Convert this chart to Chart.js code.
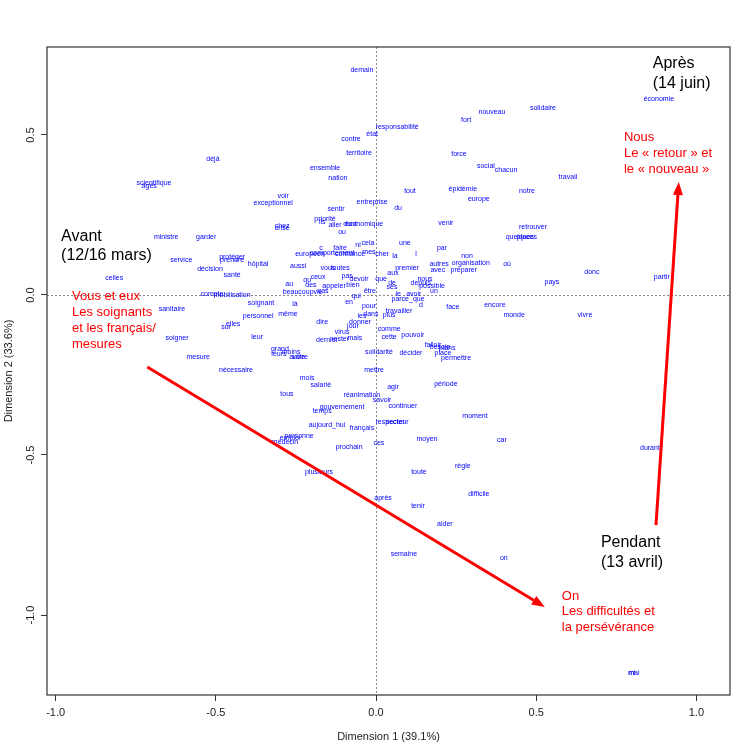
<!DOCTYPE html>
<html><head><meta charset="utf-8">
<script src="https://cdn.jsdelivr.net/npm/chart.js@4/dist/chart.umd.min.js"></script>
<style>html,body{margin:0;padding:0;background:#fff}</style>
</head><body>
<canvas id="c" width="754" height="754" style="display:block;width:754px;height:754px"></canvas>
<script>
// ---- data (correspondence analysis coordinates) ----
const words = ["demain","responsabilité","état","contre","territoire","nouveau","solidaire","économie","fort","force",
"social","chacun","travail","notre","épidémie","europe","tout","déjà","scientifique","âgés",
"ensemble","nation","voir","exceptionnel","entreprise","du","sentir","priorité","ils","aller",
"dont","économique","ou","venir","retrouver","quelques","places","crise","chez","ministre",
"garder","cela","ni","une","c","faire","européen","comportement","confiance","mes",
"cher","la","l","par","non","organisation","autres","avec","préparer","premier",
"aux","où","donc","pays","partir","service","protéger","prendre","hôpital","décision",
"santé","celles","aussi","vous","toutes","pas","devoir","que","ceux","qu",
"au","des","appeler","bien","beaucoup","vie","cas","être","nous","depuis",
"possible","de","ses","un","le","avoir","parce_que","qui","compte","mobilisation",
"soignant","là","en","pour","d","face","encore","travailler","plus","monde",
"vivre","sanitaire","personnel","même","les","dans","dire","donner","elles","sur",
"jour","virus","comme","cette","pouvoir","soigner","leur","dernier","rester","mais",
"falloir","besoin","plans","place","décider","permettre","grand","leurs","moins","autre",
"votre","solidarité","mesure","nécessaire","mettre","mois","salarié","agir","période","tous",
"réanimation","savoir","continuer","gouvernement","temps","moment","respecter","secteur","aujourd_hui","français",
"personne","emploi","médecin","moyen","car","ces","prochain","durant","règle","plusieurs",
"toute","difficile","après","tenir","aider","semaine","on","mai","mi"];
const dim1 = [-0.044,0.066,-0.012,-0.078,-0.053,0.362,0.521,0.883,0.281,0.259,
0.343,0.406,0.599,0.471,0.271,0.321,0.106,-0.509,-0.693,-0.708,
-0.159,-0.119,-0.290,-0.321,-0.012,0.069,-0.125,-0.159,-0.168,-0.128,
-0.081,-0.037,-0.106,0.218,0.490,0.449,0.471,-0.293,-0.293,-0.655,
-0.530,-0.025,-0.056,0.090,-0.172,-0.112,-0.206,-0.137,-0.081,-0.022,
0.019,0.059,0.125,0.206,0.284,0.296,0.197,0.193,0.274,0.097,
0.053,0.409,0.674,0.549,0.892,-0.608,-0.449,-0.449,-0.368,-0.518,
-0.449,-0.817,-0.243,-0.150,-0.112,-0.090,-0.053,0.016,-0.181,-0.215,
-0.271,-0.203,-0.131,-0.072,-0.243,-0.181,-0.165,-0.019,0.153,0.140,
0.175,0.050,0.050,0.181,0.069,0.118,0.100,-0.062,-0.512,-0.449,
-0.359,-0.253,-0.084,-0.022,0.140,0.240,0.371,0.072,0.041,0.431,
0.652,-0.637,-0.368,-0.275,-0.044,-0.016,-0.168,-0.050,-0.446,-0.468,
-0.072,-0.106,0.041,0.041,0.115,-0.621,-0.371,-0.153,-0.112,-0.066,
0.178,0.200,0.222,0.209,0.109,0.250,-0.300,-0.303,-0.265,-0.246,
-0.237,0.009,-0.555,-0.437,-0.006,-0.215,-0.172,0.053,0.218,-0.278,
-0.044,0.019,0.084,-0.106,-0.168,0.309,0.044,0.066,-0.153,-0.044,
-0.240,-0.268,-0.284,0.159,0.393,0.009,-0.084,0.855,0.271,-0.178,
0.134,0.321,0.022,0.131,0.215,0.087,0.399,0.805,0.799];
const dim2 = [0.703,0.525,0.503,0.488,0.444,0.572,0.584,0.613,0.547,0.441,
0.403,0.391,0.369,0.325,0.331,0.300,0.325,0.425,0.350,0.341,
0.397,0.366,0.309,0.288,0.291,0.272,0.269,0.238,0.228,0.219,
0.222,0.222,0.197,0.225,0.213,0.181,0.181,0.209,0.216,0.181,
0.181,0.163,0.156,0.163,0.147,0.147,0.128,0.131,0.128,0.134,
0.128,0.122,0.128,0.147,0.122,0.100,0.097,0.078,0.078,0.084,
0.069,0.097,0.072,0.041,0.056,0.109,0.119,0.109,0.097,0.081,
0.063,0.053,0.091,0.084,0.084,0.059,0.050,0.050,0.056,0.047,
0.034,0.031,0.028,0.031,0.009,0.009,0.013,0.013,0.050,0.038,
0.028,0.038,0.025,0.013,0.003,0.003,-0.013,-0.003,0.003,0.000,
-0.025,-0.028,-0.022,-0.034,-0.031,-0.038,-0.031,-0.050,-0.063,-0.063,
-0.063,-0.044,-0.066,-0.059,-0.066,-0.059,-0.084,-0.084,-0.091,-0.100,
-0.097,-0.116,-0.106,-0.131,-0.125,-0.134,-0.131,-0.141,-0.138,-0.134,
-0.156,-0.163,-0.166,-0.181,-0.181,-0.197,-0.169,-0.184,-0.178,-0.194,
-0.194,-0.178,-0.194,-0.234,-0.234,-0.259,-0.281,-0.288,-0.278,-0.309,
-0.313,-0.328,-0.347,-0.350,-0.363,-0.378,-0.397,-0.397,-0.406,-0.416,
-0.441,-0.447,-0.459,-0.450,-0.453,-0.463,-0.475,-0.478,-0.534,-0.553,
-0.553,-0.622,-0.634,-0.659,-0.716,-0.809,-0.822,-1.181,-1.181];

const xTickValues = [-1.0, -0.5, 0.0, 0.5, 1.0];
const yTickValues = [-1.0, -0.5, 0.0, 0.5];
const xTitle = "Dimension 1 (39.1%)";
const yTitle = "Dimension 2 (33.6%)";

// period labels (black) and theme labels (red), anchored in data units
const periodLines = [["Avant","(12/16 mars)"],["Après","(14 juin)"],["Pendant","(13 avril)"]];
const periodX = [-0.983, 0.864, 0.702];
const periodY = [0.184, 0.722, -0.775];
const themeLines = [["Vous et eux","Les soignants","et les français/","mesures"],
                    ["Nous","Le « retour » et","le « nouveau »"],
                    ["On","Les difficultés et","la persévérance"]];
const themeX = [-0.949, 0.774, 0.580];
const themeY = [-0.006, 0.491, -0.941];
const arrowFromX = [-0.714, 0.874];
const arrowFromY = [-0.225, -0.719];
const arrowToX = [0.527, 0.945];
const arrowToY = [-0.975, 0.353];

const FONT = "'Liberation Sans', Arial, Helvetica, sans-serif";

const decorPlugin = {
  id: 'decor',
  beforeDatasetsDraw(chart) {
    const {ctx, chartArea: a, scales: {x, y}} = chart;
    ctx.save();
    ctx.strokeStyle = '#888';
    ctx.lineWidth = 1;
    ctx.setLineDash([2, 2]);
    const x0 = Math.round(x.getPixelForValue(0)) + 0.5;
    const y0 = Math.round(y.getPixelForValue(0)) + 0.5;
    ctx.beginPath(); ctx.moveTo(x0, a.top); ctx.lineTo(x0, a.bottom); ctx.stroke();
    ctx.beginPath(); ctx.moveTo(a.left, y0); ctx.lineTo(a.right, y0); ctx.stroke();
    ctx.setLineDash([]);
    ctx.strokeStyle = '#333';
    ctx.lineWidth = 1.2;
    ctx.strokeRect(a.left, a.top, a.right - a.left, a.bottom - a.top);
    ctx.restore();
  },
  afterDatasetsDraw(chart) {
    const {ctx, scales: {x, y}} = chart;
    const meta = chart.getDatasetMeta(0);
    ctx.save();
    // word labels
    ctx.font = "7px " + FONT;
    ctx.fillStyle = '#0000ff';
    ctx.textAlign = 'center';
    ctx.textBaseline = 'middle';
    meta.data.forEach((pt, i) => { ctx.fillText(words[i], pt.x, pt.y); });
    // period labels
    ctx.textAlign = 'left';
    ctx.fillStyle = '#000';
    ctx.font = "16px " + FONT;
    periodLines.forEach((lines, i) => {
      const px = x.getPixelForValue(periodX[i]), py = y.getPixelForValue(periodY[i]);
      lines.forEach((t, j) => ctx.fillText(t, px, py + j * 19.5));
    });
    // theme labels
    ctx.fillStyle = '#ff0000';
    ctx.font = "13px " + FONT;
    themeLines.forEach((lines, i) => {
      const px = x.getPixelForValue(themeX[i]), py = y.getPixelForValue(themeY[i]);
      lines.forEach((t, j) => ctx.fillText(t, px, py + j * 15.8));
    });
    // arrows
    ctx.strokeStyle = '#ff0000';
    ctx.lineWidth = 3;
    for (let i = 0; i < arrowFromX.length; i++) {
      const x1 = x.getPixelForValue(arrowFromX[i]), y1 = y.getPixelForValue(arrowFromY[i]);
      const x2 = x.getPixelForValue(arrowToX[i]), y2 = y.getPixelForValue(arrowToY[i]);
      const ang = Math.atan2(y2 - y1, x2 - x1);
      const L = 13, W = 5;
      const bx = x2 - L * Math.cos(ang), by = y2 - L * Math.sin(ang);
      ctx.beginPath(); ctx.moveTo(x1, y1); ctx.lineTo(bx, by); ctx.stroke();
      ctx.beginPath();
      ctx.moveTo(x2, y2);
      ctx.lineTo(bx + W * Math.sin(ang), by - W * Math.cos(ang));
      ctx.lineTo(bx - W * Math.sin(ang), by + W * Math.cos(ang));
      ctx.closePath();
      ctx.fillStyle = '#ff0000';
      ctx.fill();
    }
    ctx.restore();
  }
};

new Chart(document.getElementById('c'), {
  type: 'scatter',
  data: { datasets: [{ data: words.map((w, i) => ({x: dim1[i], y: dim2[i]})), pointRadius: 0, pointHoverRadius: 0 }] },
  options: {
    responsive: false,
    devicePixelRatio: 1,
    animation: false,
    events: [],
    layout: { padding: { left: 0, right: 24, top: 47, bottom: 0 } },
    plugins: { legend: { display: false }, tooltip: { enabled: false } },
    scales: {
      x: {
        type: 'linear', min: -1.027, max: 1.105,
        afterBuildTicks: s => { s.ticks = xTickValues.map(v => ({value: v})); },
        afterFit: s => { s.height = 59; },
        border: { display: false },
        grid: { display: true, drawOnChartArea: false, drawTicks: true, tickLength: 6, tickColor: '#333', color: '#333', tickWidth: 1 },
        ticks: { callback: v => Number(v).toFixed(1), color: '#222', font: { family: FONT, size: 11 }, padding: 5, maxRotation: 0, autoSkip: false },
        title: { display: true, text: xTitle, color: '#222', font: { family: FONT, size: 11 }, padding: { top: 0, bottom: 10 } }
      },
      y: {
        type: 'linear', min: -1.25, max: 0.775,
        afterBuildTicks: s => { s.ticks = yTickValues.map(v => ({value: v})); },
        afterFit: s => { s.width = 47; },
        border: { display: false },
        grid: { display: true, drawOnChartArea: false, drawTicks: true, tickLength: 6, tickColor: '#333', color: '#333', tickWidth: 1 },
        ticks: { callback: v => Number(v).toFixed(1), color: '#222', font: { family: FONT, size: 11 }, padding: 1, minRotation: 90, maxRotation: 90, crossAlign: 'center', autoSkip: false },
        title: { display: true, text: yTitle, color: '#222', font: { family: FONT, size: 11 }, padding: { top: 2, bottom: 0 } }
      }
    }
  },
  plugins: [decorPlugin]
});
</script>
</body></html>
